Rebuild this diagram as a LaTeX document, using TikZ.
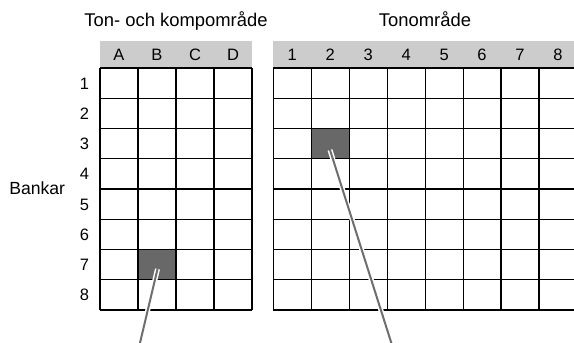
\documentclass[tikz,border=0pt]{standalone}
\usepackage{fontspec}
\setmainfont{Liberation Sans}
\definecolor{hdrgray}{HTML}{CCCCCC}
\definecolor{cellgray}{HTML}{686868}
\definecolor{pointergray}{HTML}{6E6E6E}
\begin{document}
\begin{tikzpicture}[x=1pt,y=-1pt,
  lbl/.style={font=\fontsize{16.5}{18}\selectfont, anchor=base, inner sep=0pt},
  ttl/.style={font=\fontsize{18.4}{20}\selectfont, anchor=base, inner sep=0pt},
  gridline/.style={line width=1.2pt, black},
  hdr/.style={fill=hdrgray, draw=none},
  shaded/.style={fill=cellgray, draw=black, line width=1.2pt, inner sep=0pt, minimum width=38pt, minimum height=30.25pt},
  halo/.style={white, line width=5pt},
  pointer/.style={pointergray, line width=2pt}]
\useasboundingbox (0,0) rectangle (574,343);
\clip (0,0) rectangle (574,343);
% titles
\node[ttl] (t1) at (176,26.7) {Ton- och kompområde};
\node[ttl] (t2) at (425,26.7) {Tonområde};
% header bars
\fill[hdr] (100,41) rectangle (252,68);
\fill[hdr] (273.3,41) rectangle (580,68);
% column labels left
\foreach \l [count=\i from 0] in {A,B,C,D}
  \node[lbl] (cl\l) at (119+38*\i,60.5) {\l};
% column labels right
\foreach \i in {1,...,8}
  \node[lbl] (cr\i) at (273.3+37.96*\i-18.98,60.5) {\i};
% row labels
\foreach \i in {1,...,8}
  \node[lbl] (r\i) at (84.5,68+30.25*\i-15.125+5.9) {\i};
\node[ttl, font=\fontsize{17.6}{19}\selectfont] (bankar) at (37.2,194.8) {Bankar};
% shaded cells
\node[shaded] (cellL) at (157,264.625) {};
\node[shaded] (cellR) at (330.7,143.625) {};
% grids
\foreach \j in {0,...,8} {
  \draw[gridline] (100,68+30.25*\j) -- (252,68+30.25*\j);
  \draw[gridline] (273.3,68+30.25*\j) -- (580,68+30.25*\j);
}
\foreach \i in {0,...,4}
  \draw[gridline] (100+38*\i,68) -- (100+38*\i,310);
\foreach \i in {0,...,8}
  \draw[gridline] (273.3+37.96*\i,68) -- (273.3+37.96*\i,310);
% pointers
\coordinate (pL) at (139.5,345);
\coordinate (pR) at (392,345);
\coordinate (sL) at (157.5,269);
\coordinate (sR) at (330,150);
\draw[halo] (sL) -- (pL);
\draw[pointer] (sL) -- (pL);
\draw[halo] (sR) -- (pR);
\draw[pointer] (sR) -- (pR);
\end{tikzpicture}
\end{document}
